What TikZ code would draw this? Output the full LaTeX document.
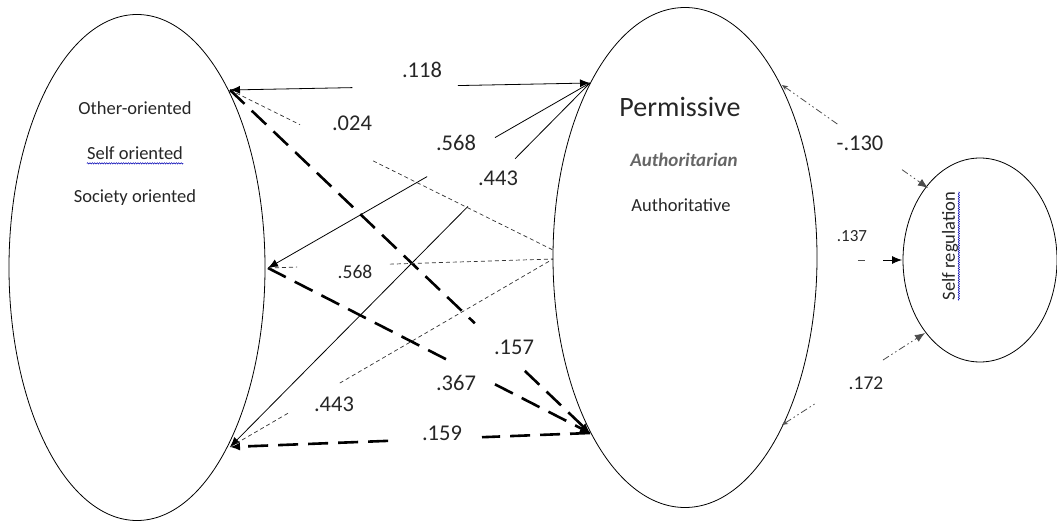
\documentclass[tikz,border=0pt]{standalone}
\usepackage{fontspec}
\setmainfont{Carlito}
\usetikzlibrary{shapes.geometric,arrows.meta,calc,decorations.pathmorphing}
\begin{document}
\begin{tikzpicture}[x=1pt,y=-1pt,
  blob/.style={draw=black, line width=0.8pt, ellipse, inner sep=0pt},
  inner/.style={font=\fontsize{18.5}{22}\selectfont, text=black!85, inner sep=0pt},
  lab/.style={font=\fontsize{22.5}{26}\selectfont, text=black!85, inner sep=0pt},
  smalllab/.style={font=\fontsize{19.5}{23}\selectfont, text=black!85, inner sep=0pt},
  tinylab/.style={font=\fontsize{17}{20}\selectfont, text=black!85, inner sep=0pt},
  solidline/.style={line width=0.8pt, black},
  thindash/.style={line width=0.7pt, black!80, dash pattern=on 4pt off 3pt},
  thickdash/.style={line width=2.6pt, black, dash pattern=on 20pt off 10pt},
  dashdot/.style={line width=0.8pt, black!70, dash pattern=on 7pt off 3pt on 1.5pt off 3pt on 1.5pt off 3pt},
  spell/.style={blue!70!black, line width=0.5pt, decorate, decoration={snake, amplitude=0.7pt, segment length=2.4pt}},
  >={Latex[length=10pt,width=8pt]}
]
\useasboundingbox (0,0) rectangle (1057,521);

% ellipses
\node[blob, minimum width=256pt, minimum height=506pt] (L) at (137,267.5) {};
\node[blob, minimum width=264pt, minimum height=500pt] (M) at (685,257.5) {};
\node[blob, minimum width=154pt, minimum height=204pt] (C) at (980,260) {};

% texts in ellipses
\node[inner] (t1) at (135,108) {Other-oriented};
\node[inner] (t2) at (135,153) {Self oriented};
\node[inner] (t3) at (135,198) {Society oriented};
\draw[spell] ($(t2.base west)+(0,4)$) -- ($(t2.base east)+(0,4)$);

\node[font=\fontsize{28}{32}\selectfont, text=black!85, inner sep=0pt] (m1) at (680,107) {Permissive};
\node[font=\fontsize{19}{22}\selectfont\bfseries\itshape, text=black!60, inner sep=0pt] (m2) at (684,160) {Authoritarian};
\node[inner] (m3) at (681,205) {Authoritative};

\node[inner, rotate=90] (sr) at (950,246) {Self regulation};
\draw[spell] ($(sr.base west)+(4,0)$) -- ($(sr.base east)+(4,0)$);

% anchor points on ellipses
\coordinate (A1) at (230,90);
\coordinate (A2) at (268,268);
\coordinate (A3) at (230,447);
\coordinate (P1) at (590,83);
\coordinate (P2) at (553,250);
\coordinate (P3) at (553,259);
\coordinate (P4) at (590,433);
\coordinate (R1) at (782,85);
\coordinate (R2) at (817,260);
\coordinate (R3) at (782,425);
\coordinate (C1) at (928,188);
\coordinate (C2) at (902,260);
\coordinate (C3) at (925,333);

% .118
\draw[solidline, <-] (A1) -- ($(A1)!0.34!(P1)$);
\draw[solidline, ->] ($(A1)!0.633!(P1)$) -- (P1);
\node[lab] (l118) at (422,70) {.118};

% .568 solid
\draw[solidline] (P1) -- ($(P1)!0.295!(A2)$);
\draw[solidline, ->] ($(P1)!0.506!(A2)$) -- (A2);
\node[lab] (l568a) at (456,143) {.568};

% .443 solid
\draw[solidline] (P1) -- ($(P1)!0.208!(A3)$);
\draw[solidline, ->] ($(P1)!0.339!(A3)$) -- (A3);
\node[lab] (l443a) at (498,178) {.443};

% .024 thin dashed
\draw[thindash] (A1) -- ($(A1)!0.217!(P2)$);
\draw[thindash] ($(A1)!0.443!(P2)$) -- (P2);
\node[lab] (l024) at (352,123) {.024};

% .157 thick dashed
\draw[thickdash] (A1) -- ($(A1)!0.68!(P4)$);
\draw[thickdash, ->] ($(A1)!0.819!(P4)$) -- (P4);
\node[lab] (l157) at (514,347) {.157};

% .367 thick dashed
\draw[thickdash] (A2) -- ($(A2)!0.556!(P4)$);
\draw[thickdash, ->] ($(A2)!0.705!(P4)$) -- (P4);
\node[lab] (l367) at (456,383) {.367};

% .159 thick dashed
\draw[thickdash] (P4) -- ($(P4)!0.3!(A3)$);
\draw[thickdash, ->] ($(P4)!0.561!(A3)$) -- (A3);
\node[lab] (l159) at (442,433) {.159};

% .568 thin dashed
\draw[thindash] (A2) -- ($(A2)!0.102!(P3)$);
\draw[thindash] ($(A2)!0.428!(P3)$) -- (P3);
\node[smalllab] (l568b) at (355,272) {.568};

% .443 thin dashed
\draw[thindash] (A3) -- ($(A3)!0.18!(P3)$);
\draw[thindash] ($(A3)!0.34!(P3)$) -- (P3);
\node[lab] (l443b) at (334,404) {.443};

% right side
\draw[dashdot, {Stealth[open,length=6pt,width=5pt]}-] (R1) -- ($(R1)!0.384!(C1)$);
\draw[dashdot, ->] ($(R1)!0.822!(C1)$) -- (C1);
\node[lab] (l130) at (860,143) {-.130};

\draw[dashdot] ($(R2)!0.48!(C2)$) -- ($(R2)!0.576!(C2)$);
\draw[solidline, ->] ($(R2)!0.78!(C2)$) -- (C2);
\node[tinylab] (l137) at (852,236) {.137};

\draw[dashdot, {Stealth[open,length=6pt,width=5pt]}-] (R3) -- ($(R3)!0.23!(C3)$);
\draw[dashdot, ->] ($(R3)!0.706!(C3)$) -- (C3);
\node[smalllab] (l172) at (866,383) {.172};
\end{tikzpicture}
\end{document}
